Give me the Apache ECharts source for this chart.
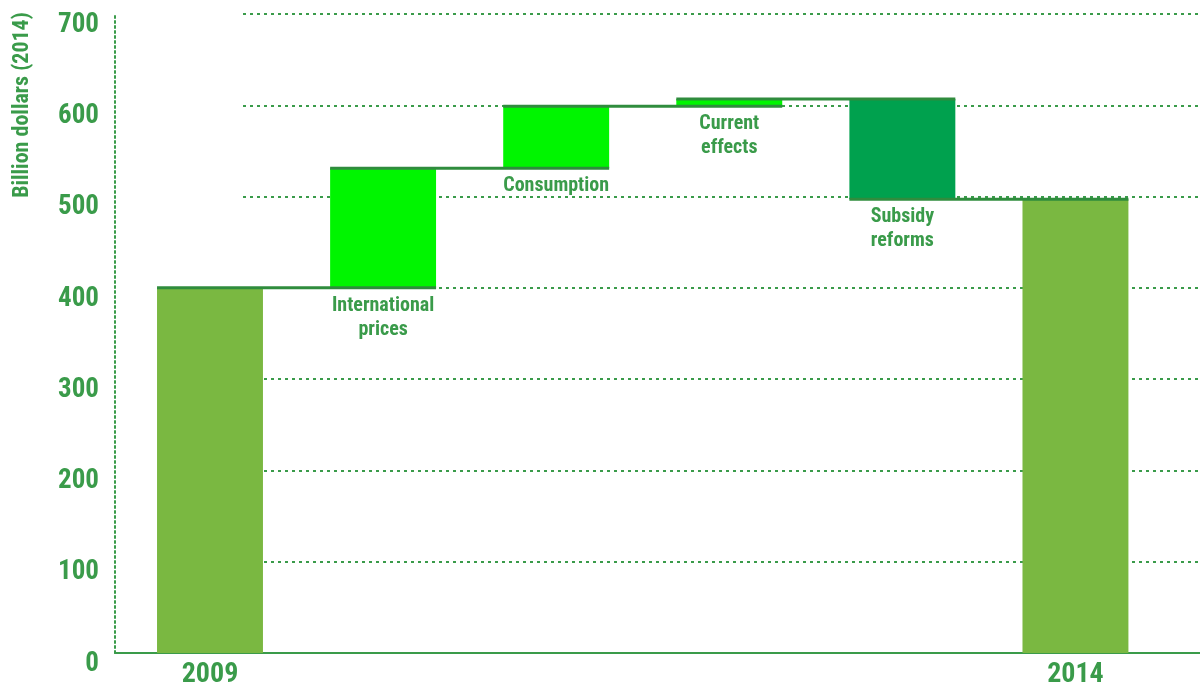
<!DOCTYPE html>
<html>
<head>
<meta charset="utf-8">
<script src="https://cdn.jsdelivr.net/npm/echarts@6/dist/echarts.min.js"></script>
<style>
html,body{margin:0;padding:0;background:#fff;}
#chart{width:1200px;height:691px;}
</style>
</head>
<body>
<div id="chart"></div>
<script>
// ---- data ----
const categories = ['2009', 'International\nprices', 'Consumption', 'Current\neffects', 'Subsidy\nreforms', '2014'];
const startValue = 400;
const changes = [131, 68, 8, -110];
const endValue = 497;
const yMin = 0, yMax = 700, yInterval = 100;
const axisTitle = 'Billion dollars (2014)';

// ---- styles ----
const FF = "'Roboto Condensed','Liberation Sans Narrow','Arial Narrow',Roboto,sans-serif";
const TEXT = '#3a9b4a';
const C_TOTAL = '#7ab841';
const C_UP = '#00f500';
const C_DOWN = '#00a14e';
const C_CONN = '#2f8c3d';
const BAR_FRAC = 0.612;

// ---- derived waterfall ----
const levels = [startValue];
changes.forEach(c => levels.push(levels[levels.length - 1] + c));
levels.push(endValue);
const base = [], height = [], colors = [];
base.push(0); height.push(startValue); colors.push(C_TOTAL);
for (let i = 0; i < changes.length; i++) {
  const a = levels[i], b = levels[i + 1];
  base.push(Math.min(a, b));
  height.push(Math.abs(b - a));
  colors.push(changes[i] >= 0 ? C_UP : C_DOWN);
}
base.push(0); height.push(endValue); colors.push(C_TOTAL);
const connectors = [];
for (let i = 0; i < categories.length - 1; i++) connectors.push([i, levels[i]]);

const chart = echarts.init(document.getElementById('chart'));
chart.setOption({
  animation: false,
  backgroundColor: '#fff',
  grid: [
    {left: 123.45, right: 38, top: 14, bottom: 38},
    {left: 243, right: 0, top: 14, bottom: 38},
    {left: 115, right: 0, top: 14, bottom: 38}
  ],
  xAxis: [
    {
      gridIndex: 0, type: 'category', data: categories,
      axisLine: {show: false}, axisTick: {show: false}, splitLine: {show: false},
      axisLabel: {
        interval: 0, margin: 8, color: TEXT, fontFamily: FF, fontWeight: 'bold', fontSize: 28,
        formatter: (v, i) => (i === 0 || i === categories.length - 1) ? v : ''
      }
    },
    {gridIndex: 1, type: 'value', min: 0, max: 1, show: false},
    {
      gridIndex: 2, type: 'value', min: 0, max: 1,
      axisLine: {show: true, lineStyle: {color: TEXT, width: 2}},
      axisTick: {show: false}, axisLabel: {show: false}, splitLine: {show: false}
    }
  ],
  yAxis: [
    {gridIndex: 0, type: 'value', min: yMin, max: yMax, interval: yInterval, show: false},
    {
      gridIndex: 1, type: 'value', min: yMin, max: yMax, interval: yInterval,
      axisLine: {show: false}, axisTick: {show: false}, axisLabel: {show: false},
      splitLine: {show: true, lineStyle: {color: TEXT, width: 2, type: [3, 4]}}
    },
    {
      gridIndex: 2, type: 'value', min: yMin, max: yMax, interval: yInterval,
      axisLine: {show: true, lineStyle: {color: TEXT, width: 2, type: [2, 3]}},
      axisTick: {show: false}, splitLine: {show: false},
      axisLabel: {
        margin: 16, color: TEXT, fontFamily: FF, fontWeight: 'bold', fontSize: 27,
        verticalAlign: 'top', lineHeight: 22
      }
    }
  ],
  graphic: [{
    type: 'text', x: 22, y: 105, rotation: Math.PI / 2,
    style: {
      text: axisTitle, fill: TEXT, font: 'bold 22px ' + FF,
      align: 'center', verticalAlign: 'middle'
    }
  }],
  series: [
    {
      type: 'bar', xAxisIndex: 0, yAxisIndex: 0, stack: 'wf', silent: true,
      barWidth: (BAR_FRAC * 100) + '%',
      itemStyle: {color: 'rgba(0,0,0,0)'},
      emphasis: {disabled: true},
      label: {
        show: true, position: 'insideTop', distance: 6,
        color: TEXT, fontFamily: FF, fontWeight: 'bold', fontSize: 20, lineHeight: 24,
        formatter: p => (p.dataIndex === 0 || p.dataIndex === categories.length - 1) ? '' : categories[p.dataIndex]
      },
      data: base
    },
    {
      type: 'bar', xAxisIndex: 0, yAxisIndex: 0, stack: 'wf', silent: true,
      barWidth: (BAR_FRAC * 100) + '%',
      emphasis: {disabled: true},
      data: height.map((v, i) => ({value: v, itemStyle: {color: colors[i]}}))
    },
    {
      type: 'custom', xAxisIndex: 0, yAxisIndex: 0, silent: true, z: 5,
      encode: {x: 0, y: 1},
      data: connectors,
      renderItem: (params, api) => {
        const i = api.value(0), lvl = api.value(1);
        const p1 = api.coord([i, lvl]);
        const p2 = api.coord([i + 1, lvl]);
        const half = api.size([1, 0])[0] * BAR_FRAC / 2;
        return {
          type: 'line',
          shape: {x1: p1[0] - half, y1: p1[1], x2: p2[0] + half, y2: p2[1]},
          style: {stroke: C_CONN, lineWidth: 3}
        };
      }
    }
  ]
});
</script>
</body>
</html>
